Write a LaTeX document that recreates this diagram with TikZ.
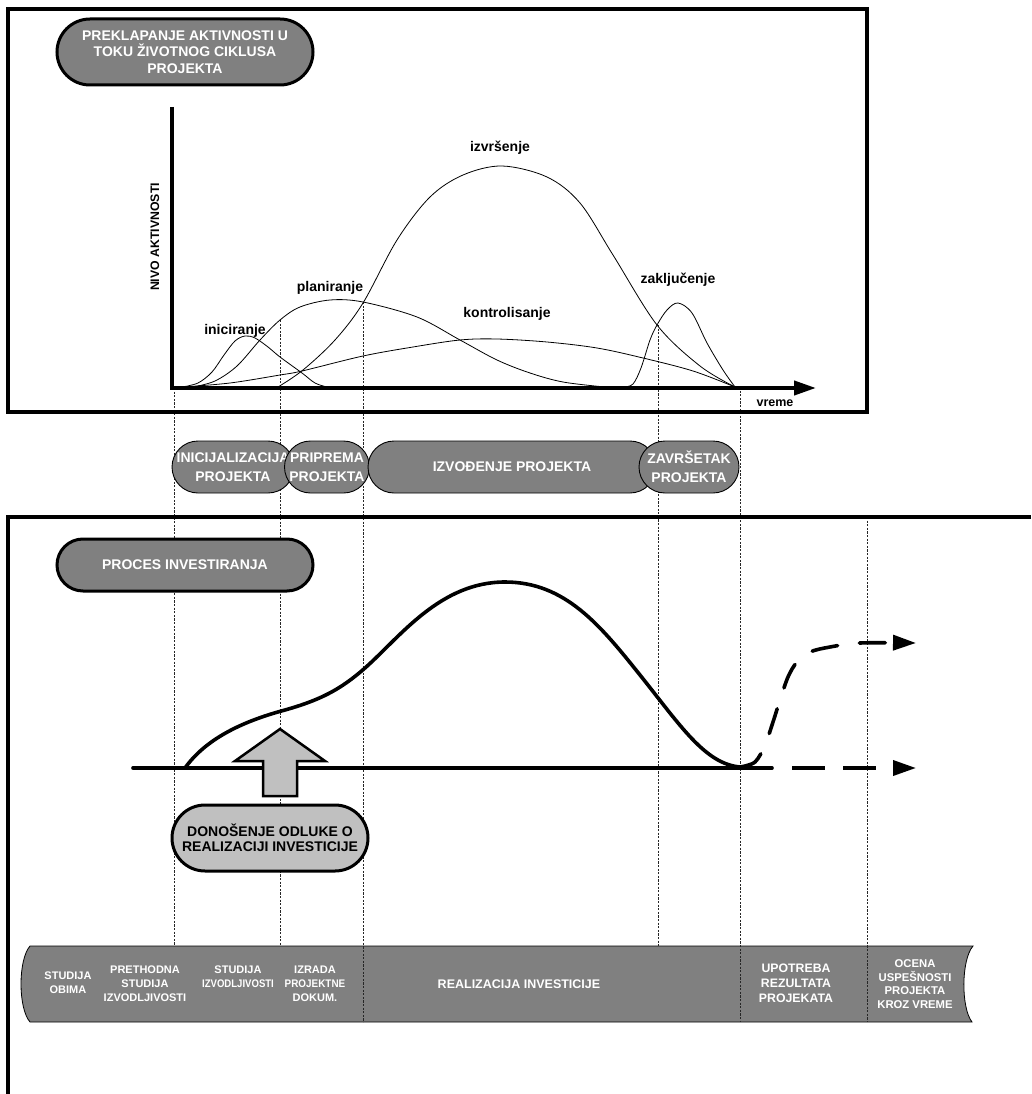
\documentclass[tikz,border=0pt]{standalone}
\usepackage{fontspec}
\setmainfont{Liberation Sans}
\usepackage{graphicx}
\usetikzlibrary{arrows.meta,shapes.misc}
\definecolor{darkfill}{HTML}{808080}
\definecolor{lightfill}{HTML}{C0C0C0}
\begin{document}
\begin{tikzpicture}[x=1pt,y=-1pt,
  frame/.style={line width=4pt},
  pill/.style={rounded rectangle, draw=black, line width=3pt, fill=darkfill, text=white,
    font=\bfseries\fontsize{14}{16.5}\selectfont, align=center, inner sep=0pt},
  phasebox/.style={rounded rectangle, draw=black, line width=0.9pt, fill=darkfill, text=white,
    font=\bfseries\fontsize{14}{19}\selectfont, align=center, inner sep=0pt, minimum height=52pt},
  decisionbox/.style={rounded rectangle, draw=black, line width=3pt, fill=lightfill, text=black,
    font=\bfseries\fontsize{14}{15.5}\selectfont, align=center, inner sep=0pt},
  activity/.style={line width=0.8pt},
  actlabel/.style={font=\bfseries\fontsize{14}{16}\selectfont, anchor=base, inner sep=0pt},
  guide/.style={line width=0.7pt, dash pattern=on 2.2pt off 1.4pt, black!85},
  bartext/.style={text=white, font=\bfseries\fontsize{11}{14}\selectfont, align=center, inner sep=0pt},
  bigtext/.style={text=white, font=\bfseries\fontsize{12.3}{15}\selectfont, align=center, inner sep=0pt},
  heavy/.style={line width=3.6pt, line cap=round},
  heavytip/.style={-{Triangle[length=23pt,width=15pt]}}
]
\useasboundingbox (0,0) rectangle (1031,1094);

% ---------- time bar of the investment process ----------
\draw[line width=0.8pt, fill=darkfill]
  (30,946) -- (973,946) .. controls (961,960) and (961,1008) .. (972,1022)
  -- (30,1022) .. controls (18,1008) and (18,960) .. cycle;

% ---------- vertical guide lines ----------
\coordinate (g1t) at (174,388);  \coordinate (g1b) at (174,946);
\coordinate (g2t) at (280,320);  \coordinate (g2b) at (280,946);
\coordinate (g3t) at (363,302);  \coordinate (g3b) at (363,1022);
\coordinate (g4t) at (658,325);  \coordinate (g4b) at (658,946);
\coordinate (g5t) at (740,387);  \coordinate (g5b) at (740,1022);
\coordinate (g6t) at (867,517);  \coordinate (g6b) at (867,1022);
\foreach \g in {1,...,6} \draw[guide] (g\g t) -- (g\g b);

% ---------- upper frame ----------
\draw[frame] (8,9) rectangle (867,412);

% activity curves
\draw[activity] plot[smooth, tension=0.55] coordinates {(182,387) (198,383) (212,372) (224,355) (235,341) (245,336) (255,338) (268,347) (280,357) (302,373) (315,383) (327,387)};
\draw[activity] plot[smooth, tension=0.55] coordinates {(193,387) (215,381) (237,366) (260,340) (280,320) (300,307) (330,300) (363,302) (417,317) (460,340) (497,360) (530,373) (563,382) (605,387)};
\draw[activity] plot[smooth, tension=0.55] coordinates {(278,387) (303,370) (335,340) (363,303) (397,240) (430,197) (463,175) (502,166) (547,177) (580,203) (613,255) (657,325) (700,366) (735,387)};
\draw[activity] plot[smooth, tension=0.55] coordinates {(183,387) (230,383) (280,375) (302,371) (363,356) (413,347) (460,340) (497,339) (547,342) (597,348) (643,358) (693,371) (735,387)};
\draw[activity] plot[smooth, tension=0.55] coordinates {(624,387) (633,384) (641,368) (650,340) (657,325) (667,310) (678,303) (692,313) (707,343) (723,370) (735,387)};

\node[actlabel] (lini) at (235,334) {iniciranje};
\node[actlabel] (lpla) at (330,291) {planiranje};
\node[actlabel] (lizv) at (500,152) {izvršenje};
\node[actlabel] (lkon) at (507,317) {kontrolisanje};
\node[actlabel] (lzak) at (678,283) {zaključenje};

% axes
\coordinate (ytop) at (172,107);
\coordinate (xend) at (816,388);
\draw[line width=4pt, line join=miter, -{Triangle[length=22pt,width=14pt]}] (ytop) |- (xend);
\node[font=\bfseries\fontsize{12.5}{14}\selectfont, anchor=base, inner sep=0pt] (vreme) at (775,406) {vreme};
\node[font=\bfseries\fontsize{12.3}{14}\selectfont, rotate=90, inner sep=0pt] (nivo) at (155,237) {NIVO AKTIVNOSTI};

\node[pill, minimum width=256pt, minimum height=66pt] (title) at (185,52)
  {PREKLAPANJE AKTIVNOSTI U\\TOKU ŽIVOTNOG CIKLUSA\\PROJEKTA};

% ---------- project phases ----------
\node[phasebox, minimum width=122pt] (inic) at (233,467) {INICIJALIZACIJA\\PROJEKTA};
\node[phasebox, minimum width=85pt] (prip) at (327,467) {PRIPREMA\\PROJEKTA};
\node[phasebox, minimum width=288pt] (izvo) at (512,467) {IZVOĐENJE PROJEKTA};
\node[phasebox, minimum width=100pt] (zavr) at (689,467) {ZAVRŠETAK\\PROJEKTA};

% ---------- lower frame ----------
\draw[frame] (1031,517) -- (8,517) -- (8,1094);
\node[pill, minimum width=256pt, minimum height=52pt] (proces) at (185,565) {PROCES INVESTIRANJA};

% investment curve
\coordinate (bstart) at (133,768);
\coordinate (bsolid) at (772,768);
\coordinate (bdash) at (792,768);
\coordinate (bend) at (916,768);
\coordinate (crise) at (185,768);
\coordinate (cpeak) at (505,582);
\coordinate (cmin) at (740,767);
\draw[heavy] (bstart) -- (bsolid);
\draw[line width=3.6pt, dash pattern=on 33pt off 18pt, heavytip] (bdash) -- (bend);
\draw[heavy]
  (crise) .. controls (205,740) and (240,722) .. (285,710)
          .. controls (320,700) and (340,690) .. (365,668)
          .. controls (400,637) and (440,582) .. (cpeak)
          .. controls (565,582) and (600,625) .. (640,675)
          .. controls (680,725) and (705,764) .. (cmin);
\draw[line width=3.6pt, line cap=round, dash pattern=on 26pt off 22pt, heavytip]
  plot[smooth, tension=0.55] coordinates {(740,767) (755,762) (765,745) (773,722) (780,700) (788,677) (797,662) (810,652) (830,647) (860,643) (916,643)};

% decision arrow and box
\draw[line width=2.5pt, fill=lightfill, line join=miter]
  (280,729) -- (325,761) -- (297,761) -- (297,796) -- (263,796) -- (263,761) -- (235,761) -- cycle;
\node[decisionbox, minimum width=196pt, minimum height=66pt] (odluka) at (270,838)
  {DONOŠENJE ODLUKE O\\REALIZACIJI INVESTICIJE};

% ---------- labels of the time bar ----------
\node[bartext] (s1) at (68,983) {STUDIJA\\OBIMA};
\node[bartext] (s2) at (145,984) {PRETHODNA\\STUDIJA\\IZVODLJIVOSTI};
\node[bartext] (s3) at (238,977) {STUDIJA\\\scalebox{0.87}[1]{IZVODLJIVOSTI}};
\node[bartext] (s4) at (315,984) {IZRADA\\\scalebox{0.9}[1]{PROJEKTNE}\\DOKUM.};
\node[font=\bfseries\fontsize{12.5}{15}\selectfont, text=white, inner sep=0pt] (s5) at (519,984) {REALIZACIJA INVESTICIJE};
\node[bigtext] (s6) at (796,983) {UPOTREBA\\REZULTATA\\PROJEKATA};
\node[text=white, font=\bfseries\fontsize{11.3}{13.7}\selectfont, align=center, inner sep=0pt] (s7) at (915,984) {OCENA\\USPEŠNOSTI\\PROJEKTA\\KROZ VREME};
\end{tikzpicture}
\end{document}
